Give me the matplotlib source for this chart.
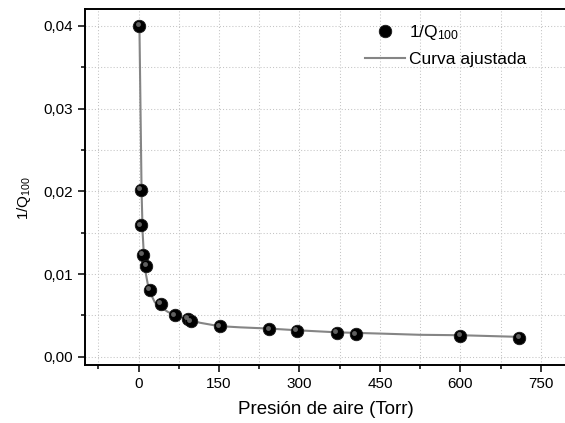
import matplotlib
matplotlib.use("Agg")
import matplotlib.pyplot as plt
import matplotlib.transforms as mtransforms
from matplotlib.ticker import MultipleLocator, FuncFormatter

# Data
pressure = [1.5, 4, 4.5, 8, 14, 20.5, 41, 67, 92, 97, 151, 244, 295, 370, 405, 600, 710]
inv_q = [0.0400, 0.0202, 0.0159, 0.0123, 0.0110, 0.0081, 0.0064, 0.0050,
         0.0046, 0.0043, 0.0037, 0.0033, 0.0031, 0.0029, 0.0027, 0.0025, 0.0023]

# Fitted curve
fit_x = [1.5, 5.5, 7.5, 9.5, 13, 19, 30, 41, 55, 67, 90, 115, 150, 190, 245,
         295, 370, 450, 525, 600, 710]
fit_y = [0.0400, 0.0200, 0.0150, 0.0126, 0.0102, 0.0081, 0.0066, 0.0060, 0.0054,
         0.0051, 0.0045, 0.0041, 0.0037, 0.00355, 0.0034, 0.0032, 0.00295, 0.0028,
         0.00265, 0.0026, 0.0024]

plt.rcParams['font.family'] = ['Liberation Sans', 'DejaVu Sans']
plt.rcParams['mathtext.fontset'] = 'custom'
plt.rcParams['mathtext.rm'] = 'Liberation Sans'
plt.rcParams['mathtext.it'] = 'Liberation Sans:italic'

W, H = 565, 423
fig = plt.figure(figsize=(W / 100, H / 100), dpi=100)
left, right, top, bottom = 85, 567.6, 9.3, 365
ax = fig.add_axes([left / W, 1 - bottom / H, (right - left) / W, (bottom - top) / H])

ax.set_xlim(-100, 800)
ax.set_ylim(-0.001, 0.042)

ax.xaxis.set_major_locator(MultipleLocator(150))
ax.xaxis.set_minor_locator(MultipleLocator(75))
ax.yaxis.set_major_locator(MultipleLocator(0.01))
ax.yaxis.set_minor_locator(MultipleLocator(0.005))
ax.yaxis.set_major_formatter(FuncFormatter(lambda v, p: f'{v:.2f}'.replace('.', ',')))

ax.grid(True, which='both', color='#c4c4c4', linestyle=(0, (1, 2)), linewidth=0.75)
ax.set_axisbelow(True)

line, = ax.plot(fit_x, fit_y, color='#858585', lw=1.5, zorder=2, label='Curva ajustada')
pts, = ax.plot(pressure, inv_q, 'o', ms=9, color='black', mec='#1a1a1a', mew=0.6,
               zorder=3, label=r'1/Q$_{\mathregular{100}}$', linestyle='none')
# subtle highlight to mimic the shaded spheres
hl = mtransforms.offset_copy(ax.transData, fig=fig, x=-1.6, y=1.6, units='dots')
ax.plot(pressure, inv_q, 'o', ms=3.5, color='#8a8a8a', alpha=0.7, mew=0,
        transform=hl, zorder=4, linestyle='none')

for s in ax.spines.values():
    s.set_linewidth(1.4)
    s.set_color('black')

ax.tick_params(which='major', direction='out', length=5, width=1.1, labelsize=11, pad=3.5)
ax.tick_params(which='minor', direction='out', length=2.8, width=1.1)
ax.tick_params(top=False, right=False)

ax.set_xlabel('Presión de aire (Torr)', fontsize=13.5)
ax.xaxis.set_label_coords(0.5, -0.1)
ax.set_ylabel(r'1/Q$_{\mathregular{100}}$', fontsize=11)
ax.yaxis.set_label_coords(-0.107, 0.47)

leg = ax.legend([pts, line], [r'1/Q$_{\mathregular{100}}$', 'Curva ajustada'],
                loc='upper left', bbox_to_anchor=(0.58, 0.962), frameon=False,
                fontsize=12.5, handlelength=2.3, handletextpad=0.25,
                borderpad=0, borderaxespad=0, labelspacing=0.6)

fig.savefig('out.png', dpi=100)
